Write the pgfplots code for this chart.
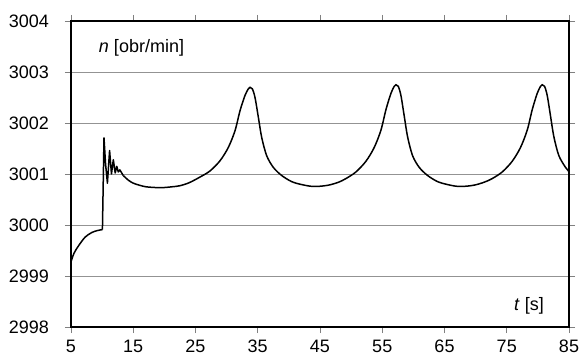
\documentclass[border=0pt]{standalone}
\usepackage{fontspec}
\setmainfont{Liberation Sans}
\usepackage{pgfplots}
\pgfplotsset{compat=1.18}
\begin{document}
\fontsize{18}{21}\selectfont
\begin{tikzpicture}
\useasboundingbox (-71pt,-29pt) rectangle (509pt,327pt);
\begin{axis}[
  scale only axis, width=498pt, height=306pt,
  at={(0pt,0pt)}, anchor=south west,
  xmin=5, xmax=85, ymin=2998, ymax=3004,
  xtick={5,15,...,85}, ytick={2998,2999,...,3004},
  ymajorgrids, grid style={gray!85, line width=0.8pt},
  axis line style={line width=1.6pt},
  tick align=outside, major tick length=6pt,
  tick style={gray, line width=0.8pt},
  /pgf/number format/assume math mode=true,
  /pgf/number format/1000 sep={},
  ticklabel style={font=\fontsize{18}{21}\selectfont},
  yticklabel style={xshift=-10pt},
  xticklabel style={inner sep=0pt, yshift=-7pt},
  clip=false,
]
\addplot[black, line width=1.5pt, smooth] coordinates {
(5.0,2999.28) (5.5,2999.45) (6.2,2999.59) (7.25,2999.76) (8.3,2999.85) (9.2,2999.89) (10.05,2999.91)
};
\addplot[black, line width=1.5pt, line join=round] coordinates {
(10.05,2999.91) (10.3,3001.71) (10.55,3001.2) (10.85,3000.82) (11.2,3001.46) (11.5,3001.0) (11.8,3001.28) (12.1,3001.02) (12.35,3001.15) (12.6,3001.04) (12.85,3001.08) (13.4,3000.97)
};
\addplot[black, line width=1.5pt, smooth] coordinates {
(13.4,3000.97) (14.2,3000.88) (15.0,3000.82) (16.0,3000.78) (17.0,3000.75) (18.5,3000.735) (20.0,3000.735) (21.3,3000.75) (22.5,3000.77) (24.0,3000.83) (25.72,3000.94)
(27.33,3001.06) (28.94,3001.26) (30.27,3001.52) (31.35,3001.85) (32.15,3002.24) (32.95,3002.54) (33.49,3002.67) (33.76,3002.70) (34.13,3002.67) (34.56,3002.50) (35.1,3002.11) (35.63,3001.72) (36.43,3001.36) (37.5,3001.13) (38.85,3000.97) (40.45,3000.85) (41.8,3000.80) (43.5,3000.76) (45.0,3000.76) (46.5,3000.785) (48.0,3000.84)
(49.16,3000.91) (50.77,3001.04) (52.38,3001.25) (53.71,3001.52) (54.79,3001.86) (55.59,3002.26) (56.39,3002.58) (56.93,3002.72) (57.2,3002.75) (57.57,3002.72) (58.0,3002.54) (58.54,3002.13) (59.07,3001.73) (59.87,3001.36) (60.94,3001.13) (62.29,3000.97) (63.89,3000.85) (65.24,3000.80) (66.9,3000.76) (68.4,3000.76) (69.9,3000.785) (71.4,3000.84)
(72.66,3000.91) (74.27,3001.04) (75.88,3001.25) (77.21,3001.52) (78.29,3001.86) (79.09,3002.26) (79.89,3002.58) (80.43,3002.72) (80.7,3002.75) (81.07,3002.72) (81.5,3002.54) (82.04,3002.13) (82.57,3001.73) (83.37,3001.36) (84.44,3001.13) (85.0,3001.05)
};
\node[anchor=west] at (axis cs:8.5,3003.47) {\textit{n} [obr/min]};
\node[anchor=east] at (axis cs:81.95,2998.41) {\textit{t} [s]};
\end{axis}
\end{tikzpicture}
\end{document}
